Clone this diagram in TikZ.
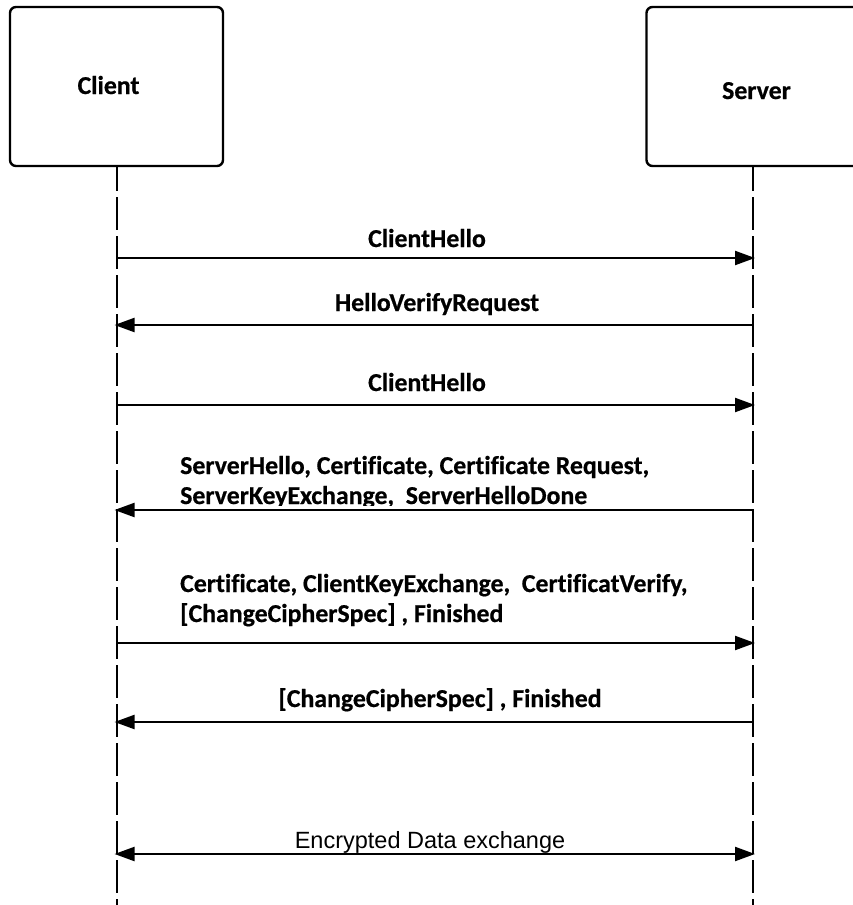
\documentclass[tikz,border=0pt]{standalone}
\usepackage{fontspec}
\setmainfont{Carlito}[Ligatures=CommonOff, BoldFeatures={FakeBold=0.6}]
\newfontfamily\plainsans{Liberation Sans}
\usetikzlibrary{arrows.meta}

\tikzset{
  actor/.style={draw, line width=2.4pt, rounded corners=6pt,
    minimum width=213pt, minimum height=159pt, inner sep=0pt, outer sep=0pt},
  lifeline/.style={line width=2pt, dash pattern=on 33pt off 6pt, dash phase=8pt},
  msg/.style={line width=2.2pt, -{Triangle[length=20pt,width=14pt]}, shorten >=-2pt},
  dmsg/.style={line width=2.2pt, {Triangle[length=20pt,width=14pt]}-{Triangle[length=20pt,width=14pt]},
    shorten >=-2pt, shorten <=-2pt},
  lbl/.style={font=\bfseries\fontsize{25.8}{30}\selectfont, inner sep=0pt},
  plainlbl/.style={font=\plainsans\fontsize{23.5}{28}\selectfont, inner sep=0pt},
}

\begin{document}
\begin{tikzpicture}[x=1pt, y=-1pt]
  \useasboundingbox (0,0) rectangle (853,905);
  \fill[white] (0,0) rectangle (853,905);

  % participants
  \node[actor] (client) at (116.5,86.5) {};
  \node[actor] (server) at (753,86.5) {};
  \node[lbl, anchor=base] (clientname) at (108.5,94) {Client};
  \node[lbl, anchor=base] (servername) at (756.5,99) {Server};

  % lifelines
  \coordinate (cend) at (116.5,905);
  \coordinate (send) at (753,905);
  \draw[lifeline] (client.south) -- (cend);
  \draw[lifeline] (server.south) -- (send);

  % message end points on the lifelines
  \foreach \i/\y in {1/258, 2/325, 3/405, 4/510, 5/643, 6/722, 7/854} {
    \coordinate (c\i) at (116.5,\y);
    \coordinate (s\i) at (753,\y);
  }

  % 1: ClientHello
  \draw[msg] (c1) -- (s1);
  \node[lbl, anchor=base] (m1) at (427,247) {ClientHello};

  % 2: HelloVerifyRequest
  \draw[msg] (s2) -- (c2);
  \node[lbl, anchor=base] (m2) at (437,311) {HelloVerifyRequest};

  % 3: ClientHello
  \draw[msg] (c3) -- (s3);
  \node[lbl, anchor=base] (m3) at (427,391) {ClientHello};

  % 4: server flight
  \draw[msg] (s4) -- (c4);
  \node[lbl, anchor=base west] (m4a) at (180,474) {ServerHello, Certificate, Certificate Request,};
  \begin{scope}
    \clip (150,480) rectangle (720,505.5);
    \node[lbl, anchor=base west] (m4b) at (180,504) {ServerKeyExchange,~ ServerHelloDone};
  \end{scope}

  % 5: client flight
  \draw[msg] (c5) -- (s5);
  \node[lbl, anchor=base west] (m5a) at (180,592) {Certificate, ClientKeyExchange,~ CertificatVerify,};
  \node[lbl, anchor=base west] (m5b) at (180,622) {[ChangeCipherSpec] , Finished};

  % 6: server finished
  \draw[msg] (s6) -- (c6);
  \node[lbl, anchor=base] (m6) at (440,707) {[ChangeCipherSpec] , Finished};

  % 7: application data
  \draw[dmsg] (c7) -- (s7);
  \node[plainlbl, anchor=base] (m7) at (430,848) {Encrypted Data exchange};
\end{tikzpicture}
\end{document}
